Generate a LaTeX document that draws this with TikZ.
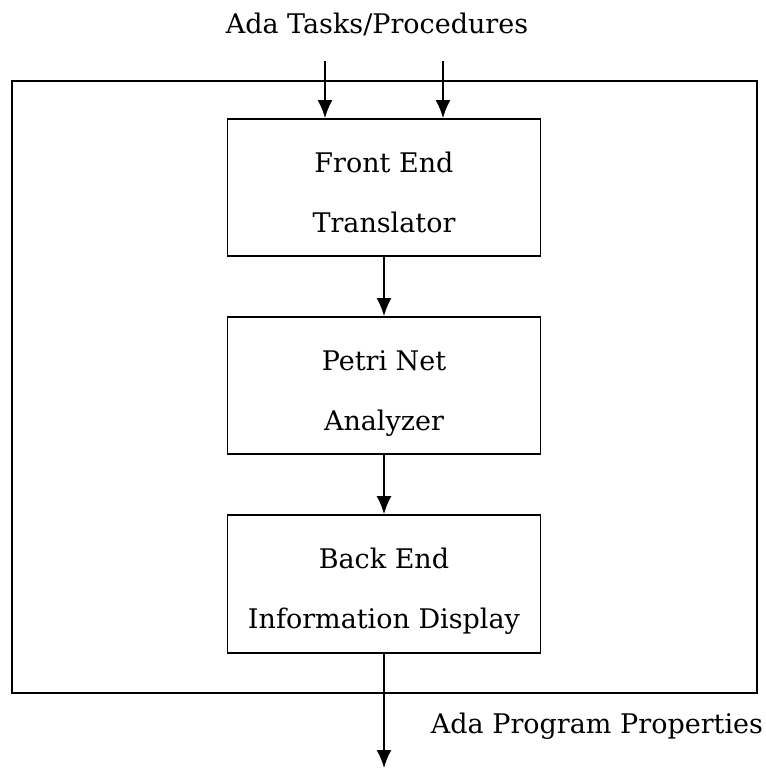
\documentclass[tikz,border=0pt]{standalone}
\usepackage{fontspec}
\setmainfont{DejaVu Serif}
\usetikzlibrary{arrows.meta}
\begin{document}
\begin{tikzpicture}[x=1pt,y=-1pt,
  box/.style={draw,line width=1.8pt,minimum width=313pt,minimum height=137pt,inner sep=0pt},
  lbl/.style={font=\fontsize{27}{30}\selectfont,anchor=base,inner sep=0pt},
  arr/.style={line width=1.8pt,-{Latex[length=18pt,width=15pt]}}]
\useasboundingbox (0,0) rectangle (766,769);
\draw[line width=1.8pt] (12,81) rectangle (757,693);
\node[box] (fe) at (384,187.5) {};
\node[box] (pn) at (384,385.5) {};
\node[box,minimum height=138pt] (be) at (384,584) {};
\node[lbl] (fe1) at (384,172) {Front End};
\node[lbl] (fe2) at (384,232) {Translator};
\node[lbl] (pn1) at (384,370) {Petri Net};
\node[lbl] (pn2) at (384,430) {Analyzer};
\node[lbl] (be1) at (384,568) {Back End};
\node[lbl] (be2) at (384,628) {Information Display};
\node[lbl] (in) at (377,33) {Ada Tasks/Procedures};
\node[lbl] (out) at (597,733) {Ada Program Properties};
\coordinate (i1) at (325,61);
\coordinate (i2) at (443,61);
\coordinate (o) at (384,768);
\draw[arr] (i1) -- (i1 |- fe.north);
\draw[arr] (i2) -- (i2 |- fe.north);
\draw[arr] (fe.south) -- (pn.north);
\draw[arr] (pn.south) -- (be.north);
\draw[arr] (be.south) -- (o);
\end{tikzpicture}
\end{document}
